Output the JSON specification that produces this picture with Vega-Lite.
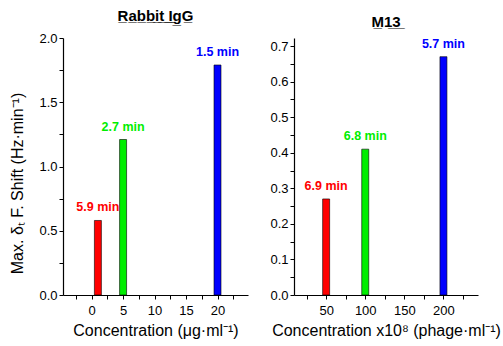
{
  "$schema": "https://vega.github.io/schema/vega-lite/v6.json",
  "background": "white",
  "padding": {"left": 9, "top": 9, "right": 5, "bottom": 5},
  "config": {
    "font": "Liberation Sans",
    "view": {"stroke": null},
    "axis": {"grid": false, "domainColor": "#000", "tickColor": "#000", "labelColor": "#000", "titleColor": "#000", "labelFont": "Liberation Sans", "titleFont": "Liberation Sans", "labelFontSize": 13, "titleFontSize": 16, "titleFontWeight": "normal", "tickSize": 4, "domainWidth": 1.2, "tickWidth": 1},
    "title": {"font": "Liberation Sans", "fontSize": 15, "fontWeight": "bold", "color": "#000", "offset": 8},
    "concat": {"spacing": 46}
  },
  "bounds": "flush",
  "data": {"values": [
    {"panel": "IgG", "conc": 1, "value": 0.58, "grp": "a", "label": "5.9 min"},
    {"panel": "IgG", "conc": 5, "value": 1.21, "grp": "b", "label": "2.7 min"},
    {"panel": "IgG", "conc": 20, "value": 1.79, "grp": "c", "label": "1.5 min"},
    {"panel": "M13", "conc": 50, "value": 0.27, "grp": "a", "label": "6.9 min"},
    {"panel": "M13", "conc": 100, "value": 0.41, "grp": "b", "label": "6.8 min"},
    {"panel": "M13", "conc": 200, "value": 0.67, "grp": "c", "label": "5.7 min"}
  ]},
  "hconcat": [
    {
      "width": 185, "height": 257,
      "title": {"text": "R̲a̲b̲b̲i̲t̲ ̲I̲g̲G̲"},
      "transform": [{"filter": "datum.panel === 'IgG'"}],
      "encoding": {
        "x": {"field": "conc", "type": "quantitative", "scale": {"domain": [-3.75, 24.05], "nice": false, "zero": false},
              "axis": {"title": "Concentration (μg·ml⁻¹)", "values": [-2.5, 0, 2.5, 5, 7.5, 10, 12.5, 15, 17.5, 20, 22.5], "labelExpr": "datum.value % 5 === 0 ? datum.label : ''", "labelPadding": 5, "titlePadding": 5}},
        "y": {"field": "value", "type": "quantitative", "scale": {"domain": [0, 2], "nice": false},
              "axis": {"title": "Max. δₜ F. Shift (Hz·min⁻¹)", "values": [0, 0.25, 0.5, 0.75, 1, 1.25, 1.5, 1.75, 2], "labelExpr": "(datum.value * 4) % 2 === 0 ? format(datum.value, '.1f') : ''", "titleX": -46, "titleY": 145, "titleAngle": 270, "titleAlign": "center", "titleBaseline": "middle"}},
        "color": {"field": "grp", "type": "nominal", "scale": {"domain": ["a", "b", "c"], "range": ["#ff0000", "#00ee00", "#0000ff"]}, "legend": null}
      },
      "layer": [
        {"mark": {"type": "bar", "orient": "vertical", "size": 7, "stroke": "#000", "strokeWidth": 0.6}},
        {"mark": {"type": "text", "dy": -13, "fontWeight": "bold", "fontSize": 12.5, "baseline": "middle", "align": "center"},
         "encoding": {"text": {"field": "label"}}}
      ]
    },
    {
      "width": 184, "height": 257,
      "title": {"text": "M̲1̲3̲"},
      "transform": [{"filter": "datum.panel === 'M13'"}],
      "encoding": {
        "x": {"field": "conc", "type": "quantitative", "scale": {"domain": [15.3, 237.8], "nice": false, "zero": false},
              "axis": {"title": "Concentration x10⁸ (phage·ml⁻¹)", "values": [25, 50, 75, 100, 125, 150, 175, 200, 225], "labelExpr": "datum.value % 50 === 0 ? datum.label : ''", "labelPadding": 5, "titlePadding": 5}},
        "y": {"field": "value", "type": "quantitative", "scale": {"domain": [0, 0.7225], "nice": false},
              "axis": {"title": null, "values": [0, 0.05, 0.1, 0.15, 0.2, 0.25, 0.3, 0.35, 0.4, 0.45, 0.5, 0.55, 0.6, 0.65, 0.7], "labelExpr": "round(datum.value * 100) % 10 === 0 ? format(datum.value, '.1f') : ''"}},
        "color": {"field": "grp", "type": "nominal", "scale": {"domain": ["a", "b", "c"], "range": ["#ff0000", "#00ee00", "#0000ff"]}, "legend": null}
      },
      "layer": [
        {"mark": {"type": "bar", "orient": "vertical", "size": 7, "stroke": "#000", "strokeWidth": 0.6}},
        {"mark": {"type": "text", "dy": -13, "fontWeight": "bold", "fontSize": 12.5, "baseline": "middle", "align": "center"},
         "encoding": {"text": {"field": "label"}}}
      ]
    }
  ],
  "resolve": {"scale": {"color": "shared"}}
}
